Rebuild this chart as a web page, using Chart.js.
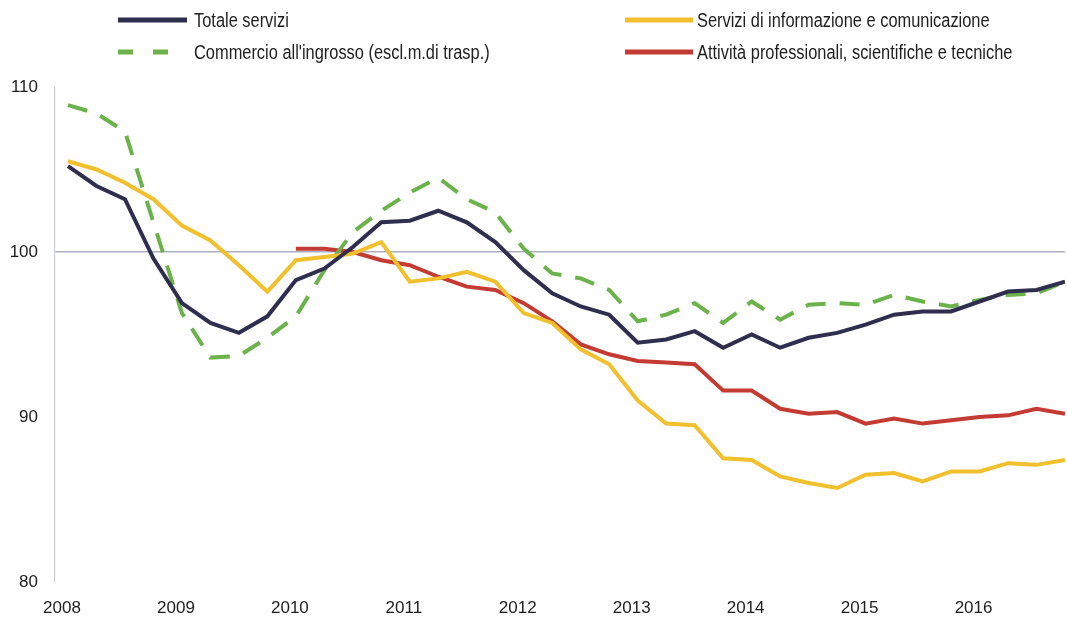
<!DOCTYPE html>
<html>
<head>
<meta charset="utf-8">
<script src="https://cdn.jsdelivr.net/npm/chart.js@4.4.1/dist/chart.umd.min.js"></script>
<style>
  html, body { margin: 0; padding: 0; background: #fff; }
  #wrap { width: 1067px; height: 618px; }
</style>
</head>
<body>
<div id="wrap"><canvas id="chart" width="1067" height="618"></canvas></div>
<script>
// =========================
// DATA (quarterly, 2008 T1 - 2016 T4)
// =========================

const years = ["2008", "2009", "2010", "2011", "2012", "2013", "2014", "2015", "2016"];

const quarters = [];
years.forEach(y => { for (let q = 1; q <= 4; q++) quarters.push(y + " T" + q); });

const totaleServizi = [
  105.2, 104.0, 103.2, 99.6, 96.9, 95.7, 95.1, 96.1, 98.3, 99.0, 100.3, 101.8,
  101.9, 102.5, 101.8, 100.6, 98.9, 97.5, 96.7, 96.2, 94.5, 94.7, 95.2, 94.2,
  95.0, 94.2, 94.8, 95.1, 95.6, 96.2, 96.4, 96.4, 97.0, 97.6, 97.7, 98.2
];

const commercioIngrosso = [
  108.9, 108.4, 107.3, 101.8, 96.3, 93.6, 93.7, 94.8, 96.1, 98.9, 101.2, 102.5,
  103.6, 104.5, 103.2, 102.4, 100.2, 98.7, 98.4, 97.7, 95.8, 96.2, 96.9, 95.7,
  97.0, 95.9, 96.8, 96.9, 96.8, 97.4, 97.0, 96.7, 97.1, 97.4, 97.5, 98.2
];

const serviziInformazione = [
  105.5, 105.0, 104.2, 103.2, 101.6, 100.7, 99.2, 97.6, 99.5, 99.7, 99.9, 100.6,
  98.2, 98.4, 98.8, 98.2, 96.3, 95.7, 94.1, 93.2, 91.0, 89.6, 89.5, 87.5,
  87.4, 86.4, 86.0, 85.7, 86.5, 86.6, 86.1, 86.7, 86.7, 87.2, 87.1, 87.4
];

const attivitaProfessionali = [
  null, null, null, null, null, null, null, null, 100.2, 100.2, 100.0, 99.5,
  99.2, 98.5, 97.9, 97.7, 96.9, 95.8, 94.4, 93.8, 93.4, 93.3, 93.2, 91.6,
  91.6, 90.5, 90.2, 90.3, 89.6, 89.9, 89.6, 89.8, 90.0, 90.1, 90.5, 90.2
];

const yTicks = [80, 90, 100, 110];

const FONT = "'Liberation Sans', Arial, sans-serif";

// =========================
// HELPERS
// =========================

function toPoints(values) {
  return values.map((v, i) => ({ x: i, y: v }));
}

// =========================
// LEGEND PLUGIN (two columns, narrow text)
// =========================

const legendSlots = [
  { x: 118, y: 20, len: 69, textX: 194 },
  { x: 625, y: 20, len: 68, textX: 697 },
  { x: 118, y: 52, len: 50, textX: 194 },
  { x: 625, y: 52, len: 68, textX: 697 }
];

const twoColumnLegend = {
  id: "twoColumnLegend",
  afterDraw(chart) {
    const ctx = chart.ctx;
    chart.data.datasets.forEach((ds, i) => {
      const s = legendSlots[i];
      ctx.save();
      ctx.strokeStyle = ds.borderColor;
      ctx.lineWidth = 5;
      ctx.lineCap = "butt";
      ctx.setLineDash(ds.borderDash ? [15, 20] : []);
      ctx.beginPath();
      ctx.moveTo(s.x, s.y);
      ctx.lineTo(s.x + s.len, s.y);
      ctx.stroke();
      ctx.setLineDash([]);
      ctx.fillStyle = "#1e1e1e";
      ctx.font = "20px " + FONT;
      ctx.textBaseline = "middle";
      const w = ctx.measureText(ds.label).width * 0.82;
      ctx.fillText(ds.label, s.textX, s.y + 1, w);
      ctx.restore();
    });
  }
};

// =========================
// CHART
// =========================

new Chart(document.getElementById("chart"), {
  type: "line",
  data: {
    datasets: [
      {
        label: "Totale servizi",
        data: toPoints(totaleServizi),
        borderColor: "#2f2e4f",
        borderWidth: 4
      },
      {
        label: "Servizi di informazione e comunicazione",
        data: toPoints(serviziInformazione),
        borderColor: "#f1c02c",
        borderWidth: 4
      },
      {
        label: "Commercio all'ingrosso (escl.m.di trasp.)",
        data: toPoints(commercioIngrosso),
        borderColor: "#6cb24a",
        borderWidth: 4,
        borderDash: [20, 14]
      },
      {
        label: "Attività professionali, scientifiche e tecniche",
        data: toPoints(attivitaProfessionali),
        borderColor: "#c43b33",
        borderWidth: 4
      }
    ]
  },
  options: {
    responsive: false,
    animation: false,
    parsing: false,
    spanGaps: false,
    elements: {
      point: { radius: 0 },
      line: { tension: 0, borderJoinStyle: "miter" }
    },
    layout: { padding: { top: 87, right: 2, left: 0, bottom: 0 } },
    plugins: {
      legend: { display: false },
      tooltip: { enabled: false }
    },
    scales: {
      x: {
        type: "linear",
        min: -0.456,
        max: quarters.length - 1,
        grid: { display: false, drawTicks: false },
        border: { display: false },
        afterBuildTicks: (scale) => {
          scale.ticks = years.map((y, i) => ({ value: i * 4 }));
        },
        afterFit: (scale) => { scale.height = 36; },
        ticks: {
          autoSkip: false,
          maxRotation: 0,
          padding: 16,
          labelOffset: -6,
          color: "#1e1e1e",
          font: { family: FONT, size: 17 },
          callback: (v) => years[v / 4]
        }
      },
      y: {
        min: yTicks[0],
        max: yTicks[yTicks.length - 1],
        afterBuildTicks: (scale) => {
          scale.ticks = yTicks.map(v => ({ value: v }));
        },
        afterFit: (scale) => { scale.width = 55; },
        grid: {
          drawTicks: false,
          color: (c) => c.tick && c.tick.value === 100 ? "#aeaec2" : "rgba(0,0,0,0)",
          lineWidth: 1.5
        },
        border: { display: true, color: "#cfcfd8", width: 1.2 },
        ticks: {
          padding: 17,
          color: "#1e1e1e",
          font: { family: FONT, size: 17 }
        }
      }
    }
  },
  plugins: [twoColumnLegend]
});
</script>
</body>
</html>
